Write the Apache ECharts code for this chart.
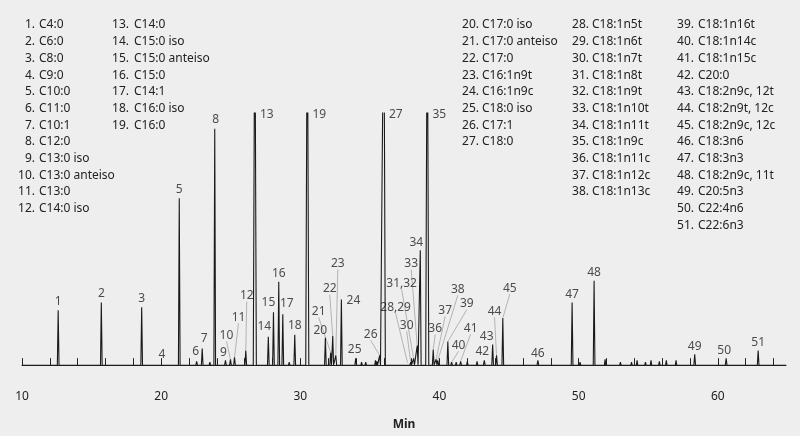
<!DOCTYPE html>
<html>
<head>
<meta charset="utf-8">
<script src="https://cdn.jsdelivr.net/npm/echarts@6/dist/echarts.min.js"></script>
<style>html,body{margin:0;padding:0;background:#eeeeee}</style>
</head>
<body>
<div id="main" style="width:800px;height:436px;"></div>
<script>
// peak list: number, retention time (min), height (pixels above baseline, tall ones run off the top)
var peakNames = ['1','2','3','4','5','6','7','8','9','10','11','12','13','14','15','16','17','18','19','20',
  '21','22','23','24','25','26','27','28,29','30','31,32','33','34','35','36','37','38','39','40','41','42',
  '43','44','45','46','47','48','49','50','51'];
var peakTimes = [12.6,15.7,18.6,20.05,21.3,22.55,22.95,23.85,24.62,24.98,25.27,26.08,26.73,27.7,28.07,28.45,28.74,29.6,30.5,31.8,
  32.18,32.33,32.55,32.95,33.98,35.7,36.0,37.71,37.93,38.14,38.4,38.62,39.12,39.55,39.76,39.88,40.6,40.87,41.52,43.22,
  43.82,44.1,44.55,47.07,49.53,51.11,58.34,60.6,62.9];
var peakHeights = [56,64,59,2,170,4,17,241,5,6,8,15,400,29,54,85,52,31,400,28,
  13,30,10,67,7,10,400,2,3,7,20,117,400,16,6,5,24,3,4,5,
  21,10,48,5,64,86,11,7,15];
// small unlabelled peaks along the trace
var minorTimes = [10.9,13.2,19.6,20.9,23.5,29.2,31.2,33.5,34.4,34.7,35.4,35.5,41.2,42.0,42.7,50.1,51.9,53.0,53.8,54.2,54.8,55.2,55.8,56.3,57.0,64.0];
var minorHeights = [1,1,2,2,3,3,2,2,3,3,5,4,3,4,4,3,6,3,3,5,3,5,4,5,5,2];
// label offsets from each peak top (dx, dy), and which labels use a leader line
var labelDx = [0,0,0,0,0,-1,2,1,-2,-4,4,1,12,-4,-5,0,4,0,12,-5,
  -12,-3,2,12,-1,-9,12,-12,-4,-12,-6,-4,12,2,9,20,19,7,10,-2,
  -6,-2,7,0,0,0,0,-2,0];
var labelDy = [-9,-9,-9,-9,-9,-10,-10,-9,-8,-24,-40,-55,2,-10,-10,-8,-11,-9,2,-7,
  -41,-47,-92,1,-9,-21,2,-56,-37,-75,-82,-8,2,-21,-49,-71,-38,-17,-33,-9,
  -8,-44,-30,-7,-8,-8,-8,-8,-8];
var leaders = ['10','11','12','21','22','23','26','28,29','30','31,32','33','36','37','38','39','40','41','44','45'];

var legendCols = [
  {numX: 35, nameX: 39, nums: ['1.','2.','3.','4.','5.','6.','7.','8.','9.','10.','11.','12.'],
   names: ['C4:0','C6:0','C8:0','C9:0','C10:0','C11:0','C10:1','C12:0','C13:0 iso','C13:0 anteiso','C13:0','C14:0 iso']},
  {numX: 129, nameX: 134, nums: ['13.','14.','15.','16.','17.','18.','19.'],
   names: ['C14:0','C15:0 iso','C15:0 anteiso','C15:0','C14:1','C16:0 iso','C16:0']},
  {numX: 479, nameX: 482, nums: ['20.','21.','22.','23.','24.','25.','26.','27.'],
   names: ['C17:0 iso','C17:0 anteiso','C17:0','C16:1n9t','C16:1n9c','C18:0 iso','C17:1','C18:0']},
  {numX: 589, nameX: 592, nums: ['28.','29.','30.','31.','32.','33.','34.','35.','36.','37.','38.'],
   names: ['C18:1n5t','C18:1n6t','C18:1n7t','C18:1n8t','C18:1n9t','C18:1n10t','C18:1n11t','C18:1n9c','C18:1n11c','C18:1n12c','C18:1n13c']},
  {numX: 694, nameX: 698, nums: ['39.','40.','41.','42.','43.','44.','45.','46.','47.','48.','49.','50.','51.'],
   names: ['C18:1n16t','C18:1n14c','C18:1n15c','C20:0','C18:2n9c, 12t','C18:2n9t, 12c','C18:2n9c, 12c','C18:3n6','C18:3n3','C18:2n9c, 11t','C20:5n3','C22:4n6','C22:6n3']}
];

var TOP = 257;
var font = 'Noto Sans';

// trace: each peak is a narrow spike on a flat baseline
var spikes = [];
peakTimes.forEach(function (t, i) { spikes.push([t, peakHeights[i], peakHeights[i] > 300 ? 0.11 : 0.06]); });
minorTimes.forEach(function (t, i) { spikes.push([t, minorHeights[i], 0.05]); });
spikes.sort(function (a, b) { return a[0] - b[0]; });
var trace = [[10, 0]];
spikes.forEach(function (s) {
  trace.push([s[0] - s[2], 0], [s[0], s[1]], [s[0] + s[2], 0]);
});
trace.push([64.9, 0]);

var labelData = peakNames.map(function (n, i) {
  return {
    name: n,
    value: [peakTimes[i], Math.min(peakHeights[i], TOP)],
    labelLine: {show: leaders.indexOf(n) >= 0}
  };
});

var graphics = [];
legendCols.forEach(function (c) {
  c.nums.forEach(function (n, r) {
    var y = 25 + r * 16.7;
    graphics.push({type: 'text', x: c.numX, y: y,
      style: {text: n, fill: '#222', font: '12px "' + font + '"', textAlign: 'right', textVerticalAlign: 'middle'}});
    graphics.push({type: 'text', x: c.nameX, y: y,
      style: {text: c.names[r], fill: '#222', font: '12px "' + font + '"', textAlign: 'left', textVerticalAlign: 'middle'}});
  });
});

var chart = echarts.init(document.getElementById('main'));
chart.setOption({
  backgroundColor: '#eeeeee',
  animation: false,
  textStyle: {fontFamily: font},
  grid: {left: 22, right: 14, top: 113, bottom: 56},
  xAxis: {
    type: 'value', min: 10, max: 64.9, interval: 2,
    name: 'Min', nameLocation: 'middle', nameGap: 44,
    nameTextStyle: {fontWeight: 'bold', fontSize: 12, color: '#222'},
    axisLine: {lineStyle: {color: '#222', width: 1}},
    axisTick: {inside: true, length: 7, lineStyle: {color: '#222'}},
    axisLabel: {margin: 16, fontSize: 12, color: '#222', showMaxLabel: false,
      formatter: function (v) { return v % 10 === 0 ? v : ''; }},
    splitLine: {show: false}
  },
  yAxis: {type: 'value', min: -10, max: TOP, show: false},
  graphic: graphics,
  series: [
    {type: 'line', data: trace, symbol: 'none', clip: true,
      lineStyle: {color: '#1a1a1a', width: 1.1}},
    {type: 'scatter', data: labelData, symbolSize: 1, clip: false,
      itemStyle: {color: 'rgba(0,0,0,0)'},
      emphasis: {disabled: true},
      label: {show: true, position: 'inside', formatter: '{b}', fontSize: 12, color: '#222',
        textBorderWidth: 0},
      labelLine: {lineStyle: {color: '#999', width: 0.7}},
      labelLayout: function (p) {
        return {dx: labelDx[p.dataIndex], dy: labelDy[p.dataIndex]};
      }}
  ]
});
</script>
</body>
</html>
